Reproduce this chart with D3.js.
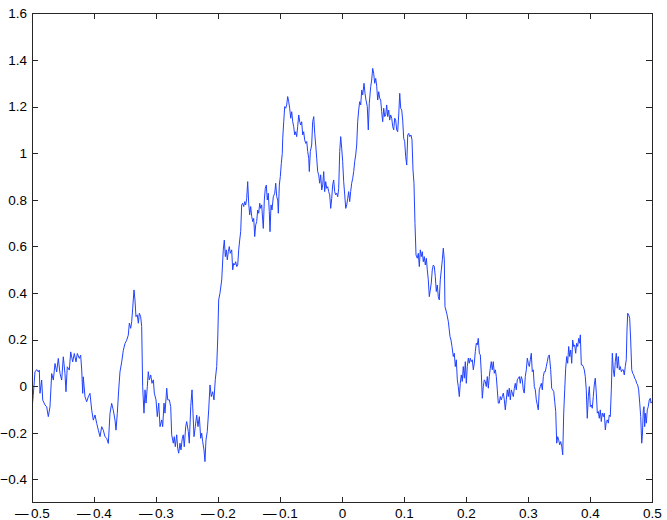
<!DOCTYPE html>
<html>
<head>
<meta charset="utf-8">
<script src="https://cdn.jsdelivr.net/npm/d3@7"></script>
<style>
  html, body { margin: 0; padding: 0; background: #fff; }
  svg { display: block; }
  .tick text { font-family: "Liberation Sans", Arial, Helvetica, sans-serif; font-size: 13.5px; fill: #000; }
</style>
</head>
<body>
<svg id="chart" width="667" height="520"></svg>
<script>
// ---- data ----
const xTicks = [-0.5, -0.4, -0.3, -0.2, -0.1, 0, 0.1, 0.2, 0.3, 0.4, 0.5];
const xTickLabels = ["\u22120.5", "\u22120.4", "\u22120.3", "\u22120.2", "\u22120.1", "0", "0.1", "0.2", "0.3", "0.4", "0.5"];
const yTicks = [-0.4, -0.2, 0, 0.2, 0.4, 0.6, 0.8, 1, 1.2, 1.4, 1.6];
const yTickLabels = ["\u22120.4", "\u22120.2", "0", "0.2", "0.4", "0.6", "0.8", "1", "1.2", "1.4", "1.6"];
const xDomain = [-0.5, 0.5];
const yDomain = [-0.5, 1.6];

// signal samples [x, y]
const signal = [
[-0.5,-0.10],[-0.498,-0.04],[-0.4952,0.061],[-0.4924,0.071],[-0.4898,0.061],[-0.4882,0.069],[-0.4871,-0.031],[-0.4844,0.026],[-0.4827,-0.06],[-0.479,-0.081],
[-0.4763,-0.089],[-0.4737,-0.131],[-0.471,-0.089],[-0.4682,0.054],[-0.4656,0.026],[-0.4629,0.097],[-0.4602,0.061],[-0.4576,0.119],[-0.4548,0.054],[-0.4521,0.026],
[-0.4495,0.126],[-0.4468,0.054],[-0.4452,-0.024],[-0.4431,0.083],[-0.4398,0.069],[-0.4376,0.147],[-0.4344,0.104],[-0.4318,0.14],[-0.429,0.104],[-0.4269,0.14],
[-0.4237,0.119],[-0.4215,0.133],[-0.4198,0.069],[-0.4182,-0.031],[-0.4173,0.04],[-0.4145,-0.046],[-0.4118,-0.067],[-0.4092,-0.046],[-0.4065,-0.031],[-0.4037,-0.103],
[-0.4011,-0.146],[-0.3984,-0.124],[-0.3956,-0.16],[-0.393,-0.189],[-0.3903,-0.217],[-0.3876,-0.174],[-0.385,-0.189],[-0.3823,-0.217],[-0.3795,-0.224],[-0.3769,-0.246],
[-0.3742,-0.117],[-0.3715,-0.074],[-0.3689,-0.103],[-0.3661,-0.146],[-0.3645,-0.189],[-0.3624,-0.117],[-0.3602,-0.017],[-0.3581,0.061],[-0.3553,0.104],[-0.3527,0.154],
[-0.35,0.183],[-0.3473,0.197],[-0.3447,0.219],
[-0.343,0.270],[-0.3408,0.248],[-0.3392,0.277],[-0.3376,0.334],[-0.3355,0.413],[-0.3339,0.370],[-0.3323,0.298],[-0.3302,0.306],[-0.3285,0.270],[-0.3269,0.313],
[-0.3247,0.298],[-0.3231,0.256],[-0.3215,-0.002],[-0.3194,-0.116],[-0.3177,-0.016],[-0.3161,-0.073],[-0.314,-0.002],[-0.3124,0.062],[-0.3108,0.027],[-0.3085,0.048],
[-0.3065,0.012],[-0.3043,0.027],[-0.3027,-0.030],[-0.300,-0.059],[-0.2979,-0.131],[-0.2956,-0.073],[-0.2935,-0.174],[-0.2908,-0.145],[-0.2892,-0.174],[-0.2871,-0.073],
[-0.2855,-0.116],[-0.2827,-0.009],[-0.2811,-0.059],[-0.2785,-0.059],[-0.2763,-0.088],[-0.2747,-0.209],[-0.2721,-0.245],[-0.2705,-0.217],[-0.2689,-0.260],[-0.2666,-0.209],
[-0.265,-0.267],[-0.2634,-0.288],[-0.2613,-0.245],[-0.2597,-0.274],[-0.2576,-0.224],[-0.256,-0.209],[-0.2544,-0.260],[-0.2521,-0.174],[-0.2505,-0.152],[-0.2479,-0.195],
[-0.2463,-0.245],[-0.244,-0.088],[-0.2419,-0.016],[-0.2403,-0.116],[-0.2387,-0.217],[-0.2366,-0.174],[-0.2344,-0.124],[-0.2323,-0.174],[-0.2301,-0.131],[-0.2279,-0.224],
[-0.2263,-0.202],[-0.2247,-0.238],[-0.2226,-0.274],[-0.221,-0.324],[-0.2194,-0.231],[-0.2173,-0.195],[-0.215,-0.102],[-0.2129,0.005],[-0.2108,-0.045],[-0.2086,-0.024],
[-0.2065,-0.059],[-0.2044,0.027],[-0.2021,0.084],[-0.2005,0.198],[-0.1989,0.370],[-0.1968,0.399],[-0.194,0.456],
[-0.1915,0.585],[-0.1898,0.627],[-0.1882,0.556],[-0.1866,0.585],[-0.1850,0.542],[-0.1834,0.577],[-0.1818,0.599],[-0.1802,0.570],[-0.1779,0.585],[-0.1763,0.499],
[-0.1747,0.527],[-0.1731,0.520],[-0.1715,0.534],[-0.1698,0.513],[-0.1682,0.520],[-0.1666,0.585],[-0.1650,0.627],[-0.1634,0.663],[-0.1618,0.778],[-0.1602,0.785],
[-0.1585,0.771],[-0.1569,0.792],[-0.1553,0.778],[-0.1537,0.806],[-0.1521,0.878],[-0.1505,0.785],[-0.1489,0.735],[-0.1473,0.771],[-0.1456,0.728],[-0.1440,0.706],
[-0.1424,0.720],[-0.1408,0.642],[-0.1392,0.692],[-0.1376,0.706],[-0.1360,0.756],[-0.1344,0.742],[-0.1327,0.785],[-0.1311,0.763],[-0.1295,0.778],[-0.1279,0.713],
[-0.1269,0.677],[-0.1253,0.799],[-0.1237,0.849],[-0.1221,0.863],[-0.1205,0.799],[-0.1189,0.828],[-0.1173,0.749],[-0.1161,0.663],[-0.1145,0.778],[-0.1129,0.756],
[-0.1108,0.813],[-0.1085,0.828],[-0.1069,0.871],[-0.1053,0.813],[-0.1037,0.799],[-0.1027,0.742],[-0.1011,0.863],[-0.0995,0.899],[-0.0979,0.956],[-0.0963,0.999],
[-0.0956,1.064],[-0.0940,1.135],[-0.0924,1.200],[-0.0908,1.193],[-0.0892,1.207],[-0.0876,1.243],[-0.0860,1.221],[-0.0844,1.193],[-0.0827,1.150],[-0.0811,1.178],
[-0.0795,1.135],[-0.0779,1.114],[-0.0763,1.078],[-0.0747,1.092],[-0.0731,1.071],[-0.0715,1.114],[-0.0698,1.164],[-0.0682,1.135],[-0.0666,1.121],[-0.0650,1.135],
[-0.0634,1.078],[-0.0618,1.092],[-0.0602,1.057],[-0.0585,1.042],[-0.0569,1.050],[-0.0553,1.007],[-0.0537,0.978],[-0.0527,0.921],[-0.0511,1.007],[-0.0489,1.035],
[-0.0473,1.135],[-0.0456,1.157],[-0.0440,1.085],[-0.0424,1.035],[-0.0408,0.978],[-0.0392,0.921],[-0.0376,0.907],[-0.0360,0.871],[-0.0344,0.907],[-0.0327,0.842],
[-0.0311,0.864],[-0.0295,0.921],[-0.0279,0.835],[-0.0263,0.878],[-0.0247,0.849],[-0.0231,0.856],[-0.0215,0.835],[-0.0198,0.821],[-0.0182,0.763],[-0.0166,0.806],
[-0.0150,0.864],[-0.0134,0.885],[-0.0118,0.835],[-0.0102,0.821],[-0.0085,0.828],[-0.0069,0.813],[-0.0053,0.849],[-0.0037,1.007],[-0.0021,1.071],[-0.0005,1.021],
[0.0011,0.964],[0.0027,0.878],[0.0044,0.821],[0.0060,0.763],[0.0076,0.778],[0.0092,0.806],[0.0108,0.835],[0.0124,0.792],[0.0140,0.835],[0.0156,0.871],
[0.0173,0.892],[0.0189,0.921],[0.0205,0.964],[0.0221,0.992],[0.0237,1.035],[0.0253,1.135],[0.0269,1.185],[0.0285,1.221],[0.0302,1.207],
[0.0318,1.271],[0.0334,1.250],[0.0355,1.300],[0.0371,1.257],[0.0387,1.228],[0.0408,1.200],[0.0424,1.100],[0.0440,1.214],[0.0463,1.286],[0.0479,1.314],
[0.0495,1.364],[0.0511,1.343],[0.0527,1.300],[0.0544,1.321],[0.0560,1.286],[0.0576,1.228],[0.0592,1.264],[0.0608,1.236],[0.0624,1.228],[0.0640,1.178],
[0.0656,1.135],[0.0673,1.193],[0.0689,1.157],[0.0705,1.164],[0.0721,1.207],[0.0737,1.157],[0.0753,1.185],[0.0769,1.142],[0.0785,1.164],[0.0802,1.150],
[0.0818,1.114],[0.0834,1.100],[0.0850,1.150],[0.0866,1.142],[0.0882,1.100],[0.0898,1.092],[0.0915,1.164],[0.0931,1.257],[0.0947,1.193],[0.0963,1.185],
[0.0979,1.142],[0.0995,1.064],[0.1011,1.050],[0.1027,0.985],[0.1044,0.949],[0.1060,1.078],[0.1076,1.085],[0.1092,1.071],[0.1113,1.078],[0.1129,1.057],
[0.1145,0.928],[0.1161,0.871],[0.1177,0.699],
[0.1194,0.563],[0.1215,0.549],[0.1231,0.570],[0.1247,0.513],[0.1263,0.585],[0.1279,0.556],[0.1295,0.577],[0.1311,0.534],[0.1327,0.556],[0.1344,0.520],
[0.1360,0.549],[0.1376,0.499],[0.1392,0.456],[0.1408,0.384],[0.1424,0.413],[0.1440,0.442],[0.1456,0.499],[0.1473,0.520],[0.1489,0.513],[0.1505,0.470],
[0.1521,0.406],[0.1537,0.434],[0.1553,0.384],[0.1569,0.370],[0.1585,0.456],[0.1602,0.499],[0.1618,0.542],[0.1634,0.592],[0.1650,0.542],[0.1661,0.341],
[0.1689,0.313],[0.1715,0.277],[0.1742,0.213],[0.1758,0.198],[0.1774,0.170],[0.1795,0.127],[0.1811,0.141],[0.1827,0.084],[0.1844,0.113],[0.1860,0.027],
[0.1876,-0.002],[0.1892,-0.045],[0.1908,0.012],[0.1924,0.048],[0.1940,0.020],[0.1956,0.084],[0.1973,0.034],[0.1989,0.105],[0.2005,0.012],[0.2021,0.084],
[0.2037,0.120],[0.2053,0.098],[0.2069,0.120],[0.2085,0.105],[0.2102,0.113],[0.2118,0.070],[0.2134,0.098],[0.2150,0.148],[0.2166,0.184],[0.2182,0.177],
[0.2198,0.205],[0.2215,0.141],[0.2231,0.134],[0.2247,0.055],[0.2263,-0.052],[0.2279,-0.002],[0.2295,0.027],[0.2311,0.020],[0.2327,-0.002],[0.2344,0.041],
[0.2360,-0.009],[0.2376,0.041],[0.2392,0.077],[0.2408,0.105],[0.2424,0.070],[0.2440,0.105],[0.2456,0.055],[0.2473,0.070],[0.2489,0.041],[0.2505,-0.016],
[0.2521,-0.073],[0.2537,-0.073],[0.2553,-0.045],[0.2569,-0.059],[0.2585,-0.045],[0.2602,-0.030],[0.2618,-0.059],[0.2634,-0.102],[0.2650,-0.059],[0.2666,-0.016],
[0.2682,-0.045],[0.2698,-0.009],[0.2715,-0.059],[0.2731,-0.016],[0.2747,-0.030],[0.2763,-0.045],[0.2779,-0.009],[0.2795,0.012],[0.2811,-0.016],[0.2827,0.027],
[0.2844,0.034],[0.2860,0.041],[0.2876,0.012],[0.2892,0.041],[0.2908,0.027],[0.2924,-0.016],[0.2940,-0.030],[0.2956,0.041],[0.2973,0.070],[0.2989,0.120],
[0.3005,0.098],[0.3021,0.084],[0.3037,0.113],[0.3053,0.141],[0.3069,0.062],[0.3085,0.070],[0.3102,-0.002],[0.3118,-0.016],[0.3134,-0.059],[0.3150,-0.080],
[0.3166,-0.102],[0.3182,-0.016],[0.3198,-0.002],[0.3215,0.012],[0.3231,-0.016],[0.3247,0.041],[0.3263,0.062],[0.3279,0.062],[0.3295,0.084],[0.3311,0.105],
[0.3327,0.127],[0.3344,0.134],
[0.3366,0.070],[0.3382,-0.009],[0.3398,-0.016],[0.3415,-0.023],[0.3431,-0.066],[0.3447,-0.109],[0.3463,-0.245],[0.3479,-0.217],[0.3495,-0.231],[0.3511,-0.252],
[0.3527,-0.238],[0.3544,-0.259],[0.3560,-0.295],[0.3576,-0.116],[0.3592,-0.016],[0.3608,0.077],[0.3624,0.127],[0.3640,0.098],[0.3656,0.170],[0.3673,0.127],
[0.3689,0.155],[0.3705,0.098],[0.3721,0.198],[0.3737,0.170],[0.3753,0.177],[0.3769,0.141],[0.3785,0.184],[0.3802,0.170],[0.3818,0.205],[0.3834,0.184],
[0.3844,0.220],[0.3860,0.091],[0.3876,0.091],[0.3892,0.084],[0.3908,0.070],[0.3924,0.041],[0.3940,-0.016],[0.3956,-0.138],[0.3973,-0.045],[0.3989,-0.002],
[0.4005,-0.088],[0.4021,-0.081],[0.4037,-0.095],[0.4053,-0.045],[0.4069,0.005],[0.4085,0.034],[0.4102,-0.030],[0.4118,-0.116],[0.4134,-0.109],[0.4150,-0.138],
[0.4166,-0.102],[0.4182,-0.152],[0.4198,-0.116],[0.4215,-0.131],[0.4231,-0.116],[0.4247,-0.188],[0.4263,-0.152],[0.4279,-0.145],[0.4295,-0.159],[0.4311,-0.124],
[0.4327,-0.131],[0.4344,-0.016],[0.4360,0.141],[0.4376,0.070],[0.4392,0.041],[0.4408,0.105],[0.4424,0.141],[0.4440,0.077],[0.4456,0.127],[0.4473,0.070],
[0.4489,0.084],[0.4505,0.062],[0.4521,0.070],[0.4537,0.070],[0.4553,0.048],[0.4569,0.084],[0.4585,0.113],[0.4597,0.241],[0.4608,0.313],[0.4624,0.306],
[0.4640,0.291],[0.4656,0.198],[0.4673,0.070],[0.4689,0.055],[0.4705,0.048],[0.4721,0.034],[0.4737,0.027],[0.4753,0.012],[0.4769,0.005],[0.4785,-0.016],
[0.4802,-0.073],[0.4818,-0.131],[0.4834,-0.245],[0.4844,-0.217],[0.4860,-0.102],[0.4871,-0.088],[0.4882,-0.174],[0.4892,-0.116],[0.4908,-0.159],[0.4924,-0.102],
[0.4940,-0.088],[0.4956,-0.059],[0.4973,-0.052],[0.4984,-0.073],[0.5,-0.066]
];

// ---- layout ----
const W = 667, H = 520;
const plotL = 32, plotR = 652, plotT = 13.4, plotB = 502.6;
const tickLen = 6;

const svg = d3.select("#chart");
svg.append("rect").attr("width", W).attr("height", H).attr("fill", "#fff");

const x = d3.scaleLinear().domain(xDomain).range([plotL, plotR]);
const y = d3.scaleLinear().domain(yDomain).range([plotB, plotT]);

// plot line (clipped to axes box)
svg.append("clipPath").attr("id", "clip")
  .append("rect").attr("x", plotL).attr("y", plotT).attr("width", plotR - plotL).attr("height", plotB - plotT);

const line = d3.line().x(d => x(d[0])).y(d => y(d[1]));
svg.append("path")
  .datum(signal)
  .attr("clip-path", "url(#clip)")
  .attr("fill", "none")
  .attr("stroke", "#2142ff")
  .attr("stroke-width", 1)
  .attr("stroke-linejoin", "round")
  .attr("d", line);

// axes (MATLAB style: inward ticks on all four sides)
const axisColor = "#262626";
function styleAxis(g) {
  g.select(".domain").remove();
  g.selectAll(".tick line").attr("stroke", axisColor).attr("shape-rendering", "crispEdges");
}

const xAxisG = svg.append("g")
  .attr("transform", `translate(0,${plotB})`)
  .call(d3.axisBottom(x).tickValues(xTicks).tickFormat((d, i) => xTickLabels[i])
        .tickSizeInner(-tickLen).tickSizeOuter(0).tickPadding(6))
  .call(styleAxis);

// x labels: long dash for the minus sign, as in the reference
xAxisG.selectAll(".tick text").each(function() {
  const t = d3.select(this);
  const s = t.text();
  if (s.startsWith("\u2212")) {
    t.text(null);
    t.append("tspan").text("\u2014");
    t.append("tspan").attr("dx", 2.5).text(s.slice(1));
  }
});
// keep labels inside the figure
xAxisG.selectAll(".tick text").each(function() {
  const bb = this.getBBox();
  const tickX = d3.select(this.parentNode).attr("transform").match(/translate\(([-\d.]+)/)[1];
  const absLeft = +tickX + bb.x;
  if (absLeft < 2) d3.select(this).attr("x", 2 - absLeft);
});

svg.append("g")
  .attr("transform", `translate(0,${plotT})`)
  .call(d3.axisTop(x).tickValues(xTicks).tickFormat("")
        .tickSizeInner(-tickLen).tickSizeOuter(0))
  .call(styleAxis);

svg.append("g")
  .attr("transform", `translate(${plotL},0)`)
  .call(d3.axisLeft(y).tickValues(yTicks).tickFormat((d, i) => yTickLabels[i])
        .tickSizeInner(-tickLen).tickSizeOuter(0).tickPadding(5))
  .call(styleAxis);

svg.append("g")
  .attr("transform", `translate(${plotR},0)`)
  .call(d3.axisRight(y).tickValues(yTicks).tickFormat("")
        .tickSizeInner(-tickLen).tickSizeOuter(0))
  .call(styleAxis);

// axes box
svg.append("rect")
  .attr("x", plotL).attr("y", plotT)
  .attr("width", plotR - plotL).attr("height", plotB - plotT)
  .attr("fill", "none")
  .attr("stroke", axisColor)
  .attr("stroke-width", 1)
  .attr("shape-rendering", "crispEdges");
</script>
</body>
</html>
